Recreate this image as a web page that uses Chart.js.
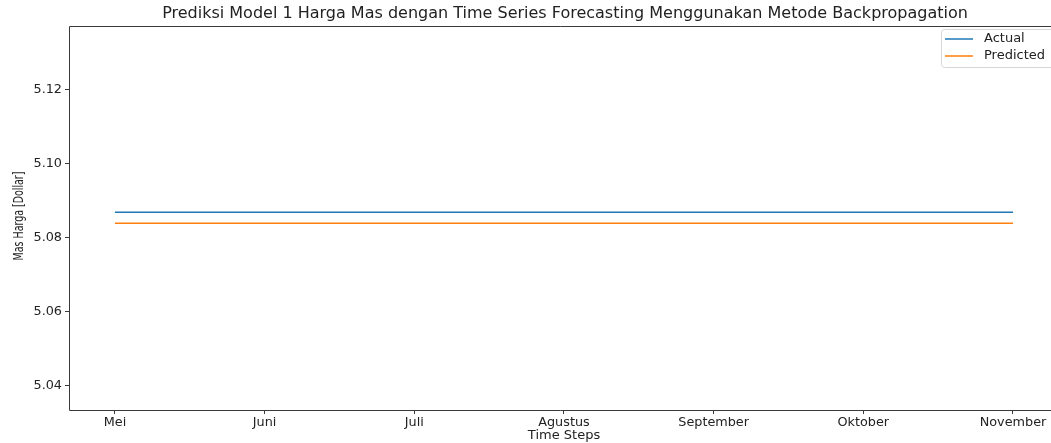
<!DOCTYPE html>
<html>
<head>
<meta charset="utf-8">
<script src="https://cdn.jsdelivr.net/npm/chart.js@4/dist/chart.umd.min.js"></script>
<style>
  html, body { margin: 0; padding: 0; background: #fff; }
  #wrap { width: 1051px; height: 443px; }
</style>
</head>
<body>
<div id="wrap"><canvas id="chart" width="1051" height="443"></canvas></div>
<script>
// Chart data
const months = ['Mei', 'Juni', 'Juli', 'Agustus', 'September', 'Oktober', 'November'];
const actual = [5.0869, 5.0869, 5.0869, 5.0869, 5.0869, 5.0869, 5.0869];
const predicted = [5.0839, 5.0839, 5.0839, 5.0839, 5.0839, 5.0839, 5.0839];
const yTicks = [5.04, 5.06, 5.08, 5.10, 5.12];

const FONT = '"DejaVu Sans", sans-serif';
const AXIS = '#3a3a3a';

// Frame, titles and legend drawn like matplotlib (right spine is cut off in the original)
const decorPlugin = {
    id: 'decor',
    afterDraw(chart) {
        const ctx = chart.ctx;
        const a = chart.chartArea;
        const l = Math.round(a.left) + 0.5, t = Math.round(a.top) + 0.5, b = Math.round(a.bottom) + 0.5;
        ctx.save();
        ctx.strokeStyle = AXIS;
        ctx.lineWidth = 1;
        ctx.beginPath();
        ctx.moveTo(1051, t);
        ctx.lineTo(l, t);
        ctx.lineTo(l, b);
        ctx.lineTo(1051, b);
        ctx.stroke();

        ctx.fillStyle = '#222';
        ctx.textAlign = 'center';
        ctx.textBaseline = 'middle';
        ctx.font = '16px ' + FONT;
        ctx.fillText('Prediksi Model 1 Harga Mas dengan Time Series Forecasting Menggunakan Metode Backpropagation',
            565, 14);

        ctx.font = '13px ' + FONT;
        ctx.fillText('Time Steps', 564, 436);

        // y label looks squeezed along its length in the original
        ctx.save();
        ctx.translate(19.5, 216);
        ctx.rotate(-Math.PI / 2);
        ctx.scale(0.78, 1);
        ctx.font = '13.5px "DejaVu Sans Condensed", ' + FONT;
        ctx.fillText('Mas Harga [Dollar]', 0, 0);
        ctx.restore();

        // legend
        const lx = 941, ly = 29, lw = 120, lh = 38;
        ctx.fillStyle = 'rgba(255,255,255,0.8)';
        ctx.strokeStyle = '#d6d6d6';
        ctx.beginPath();
        ctx.roundRect(lx + 0.5, ly + 0.5, lw, lh, 3);
        ctx.fill();
        ctx.stroke();
        ctx.textAlign = 'left';
        ctx.font = '13px ' + FONT;
        chart.data.datasets.forEach((ds, i) => {
            const y = ly + 10 + i * 17;
            ctx.strokeStyle = ds.borderColor;
            ctx.lineWidth = 1.5;
            ctx.beginPath();
            ctx.moveTo(lx + 4, y);
            ctx.lineTo(lx + 32, y);
            ctx.stroke();
            ctx.fillStyle = '#222';
            ctx.fillText(ds.label, lx + 43, y);
        });
        ctx.restore();
    }
};

new Chart(document.getElementById('chart'), {
    type: 'line',
    data: {
        datasets: [{
            label: 'Actual',
            data: actual.map((v, i) => ({ x: i, y: v })),
            borderColor: '#1f77b4',
            borderWidth: 1.5,
            pointRadius: 0,
            tension: 0
        }, {
            label: 'Predicted',
            data: predicted.map((v, i) => ({ x: i, y: v })),
            borderColor: '#ff7f0e',
            borderWidth: 1.5,
            pointRadius: 0,
            tension: 0
        }]
    },
    options: {
        responsive: false,
        animation: false,
        layout: { padding: { left: 0, right: 0, top: 26, bottom: 0 } },
        plugins: {
            legend: { display: false },
            tooltip: { enabled: false }
        },
        scales: {
            x: {
                type: 'linear',
                min: -0.307,
                max: 6.254,
                afterBuildTicks: scale => {
                    scale.ticks = months.map((m, i) => ({ value: i }));
                },
                afterFit: scale => { scale.height = 33; },
                border: { display: false },
                grid: { drawOnChartArea: false, color: AXIS, tickLength: 4 },
                ticks: {
                    color: '#222',
                    font: { family: FONT, size: 12.8 },
                    padding: 1,
                    maxRotation: 0,
                    autoSkip: false,
                    callback: v => months[v]
                }
            },
            y: {
                min: 5.0334,
                max: 5.1373,
                afterBuildTicks: scale => {
                    scale.ticks = yTicks.map(v => ({ value: v }));
                },
                afterFit: scale => { scale.width = 69; },
                border: { display: false },
                grid: { drawOnChartArea: false, color: AXIS, tickLength: 4 },
                ticks: {
                    color: '#222',
                    font: { family: FONT, size: 12.8 },
                    padding: 3,
                    callback: v => v.toFixed(2)
                }
            }
        }
    },
    plugins: [decorPlugin]
});
</script>
</body>
</html>
